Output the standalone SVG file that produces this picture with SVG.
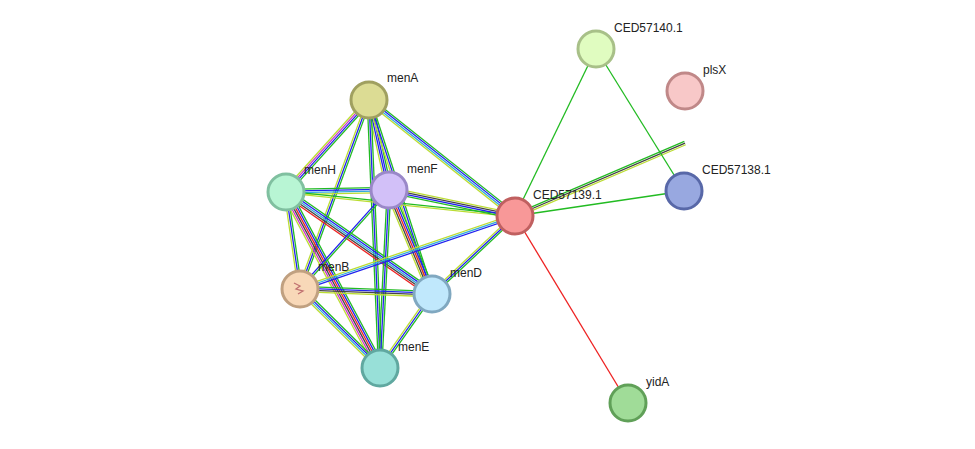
<svg xmlns="http://www.w3.org/2000/svg" width="975" height="449" viewBox="0 0 975 449">
<style>
path{stroke-width:1.3;fill:none}
.g{stroke:#22bb22}.b{stroke:#2222ee}.c{stroke:#33aadd}.y{stroke:#bbdd33}.k{stroke:#444}.r{stroke:#ee2222}.m{stroke:#cc33cc}
circle{stroke-width:3}
text{font-family:"Liberation Sans",Arial,sans-serif;font-size:12px;fill:#222}
</style>
<rect width="975" height="449" fill="#fff"/>
<g id="connectors">
<g transform="translate(369,100) rotate(132.1)"><path class="g" d="M0 -2.7H124"/><path class="b" d="M0 -0.9H124"/><path class="m" d="M0 0.9H124"/><path class="y" d="M0 2.7H124"/></g>
<g transform="translate(369,100) rotate(77.5)"><path class="g" d="M0 -2.7H92"/><path class="b" d="M0 -0.9H92"/><path class="b" d="M0 0.9H92"/><path class="y" d="M0 2.7H92"/></g>
<g transform="translate(369,100) rotate(110.1)"><path class="g" d="M0 -1.8H201"/><path class="b" d="M0 0H201"/><path class="y" d="M0 1.8H201"/></g>
<g transform="translate(369,100) rotate(72)"><path class="g" d="M0 -1.8H204"/><path class="b" d="M0 0H204"/><path class="y" d="M0 1.8H204"/></g>
<g transform="translate(369,100) rotate(87.6)"><path class="g" d="M0 -1.8H268"/><path class="b" d="M0 0H268"/><path class="g" d="M0 1.8H268"/></g>
<g transform="translate(369,100) rotate(38.5)"><path class="g" d="M0 -2.7H186"/><path class="b" d="M0 -0.9H186"/><path class="c" d="M0 0.9H186"/><path class="y" d="M0 2.7H186"/></g>
<g transform="translate(286,192) rotate(-1.1)"><path class="g" d="M0 -2.7H103"/><path class="b" d="M0 -0.9H103"/><path class="c" d="M0 0.9H103"/><path class="y" d="M0 2.7H103"/></g>
<g transform="translate(286,192) rotate(81.8)"><path class="g" d="M0 -1.8H98"/><path class="b" d="M0 0H98"/><path class="y" d="M0 1.8H98"/></g>
<g transform="translate(286,192) rotate(34.9)"><path class="g" d="M0 -3.6H178"/><path class="b" d="M0 -1.8H178"/><path class="c" d="M0 0H178"/><path class="k" d="M0 1.8H178"/><path class="r" d="M0 3.6H178"/></g>
<g transform="translate(286,192) rotate(61.9)"><path class="g" d="M0 -4.5H200"/><path class="b" d="M0 -2.7H200"/><path class="r" d="M0 -0.9H200"/><path class="k" d="M0 0.9H200"/><path class="m" d="M0 2.7H200"/><path class="y" d="M0 4.5H200"/></g>
<g transform="translate(286,192) rotate(6)"><path class="g" d="M0 -0.9H230"/><path class="y" d="M0 0.9H230"/></g>
<g transform="translate(389,190) rotate(131.9)"><path class="g" d="M0 -0.9H133"/><path class="b" d="M0 0.9H133"/></g>
<g transform="translate(389,190) rotate(67.5)"><path class="g" d="M0 -3.6H113"/><path class="b" d="M0 -1.8H113"/><path class="r" d="M0 0H113"/><path class="k" d="M0 1.8H113"/><path class="y" d="M0 3.6H113"/></g>
<g transform="translate(389,190) rotate(92.9)"><path class="g" d="M0 -1.8H178"/><path class="b" d="M0 0H178"/><path class="g" d="M0 1.8H178"/></g>
<g transform="translate(389,190) rotate(11.7)"><path class="y" d="M0 -2.7H129"/><path class="k" d="M0 -0.9H129"/><path class="b" d="M0 0.9H129"/><path class="g" d="M0 2.7H129"/></g>
<g transform="translate(300,289) rotate(2.2)"><path class="g" d="M0 -2.7H132"/><path class="b" d="M0 -0.9H132"/><path class="k" d="M0 0.9H132"/><path class="y" d="M0 2.7H132"/></g>
<g transform="translate(300,289) rotate(44.6)"><path class="g" d="M0 -2.7H112"/><path class="b" d="M0 -0.9H112"/><path class="c" d="M0 0.9H112"/><path class="y" d="M0 2.7H112"/></g>
<g transform="translate(300,289) rotate(-18.8)"><path class="y" d="M0 -1.8H227"/><path class="c" d="M0 0H227"/><path class="b" d="M0 1.8H227"/></g>
<g transform="translate(432,294) rotate(125.1)"><path class="g" d="M0 -1.8H90"/><path class="b" d="M0 0H90"/><path class="y" d="M0 1.8H90"/></g>
<g transform="translate(432,294) rotate(-43.2)"><path class="y" d="M0 -1.8H114"/><path class="b" d="M0 0H114"/><path class="g" d="M0 1.8H114"/></g>
<path class="g" d="M515 216L596 49"/>
<g transform="translate(515,216) rotate(-23.2)"><path class="g" d="M0 -1.8H185"/><path class="k" d="M0 0H185"/><path class="y" d="M0 1.8H185"/></g>
<path class="g" d="M515 216L684 191"/>
<path class="g" d="M596 49L684 191"/>
<path class="r" d="M515 216L628 403"/>
</g>
<g id="menA"><circle cx="369" cy="100" r="18" fill="#dcdc94" stroke="#a0a060"/><text x="387" y="82">menA</text></g>
<g id="menH"><circle cx="286" cy="192" r="18" fill="#b8f5d4" stroke="#80c0a0"/><text x="304" y="174">menH</text></g>
<g id="menF"><circle cx="389" cy="190" r="18" fill="#d2c0f8" stroke="#9a88c8"/><text x="407" y="173">menF</text></g>
<g id="menB"><circle cx="300" cy="289" r="18" fill="#f8d8b8" stroke="#c0a080"/><path d="M294 283l6 3-4 3 7 2-5 3" stroke="#c07070" stroke-width="1"/><text x="318" y="271">menB</text></g>
<g id="menD"><circle cx="432" cy="294" r="18" fill="#c0e8fc" stroke="#80a8c0"/><text x="450" y="277">menD</text></g>
<g id="menE"><circle cx="380" cy="368" r="18" fill="#98e0d8" stroke="#60a8a0"/><text x="398" y="351">menE</text></g>
<g id="CED57139.1"><circle cx="515" cy="216" r="18" fill="#f89898" stroke="#c06060"/><text x="533" y="199">CED57139.1</text></g>
<g id="CED57140.1"><circle cx="596" cy="49" r="18" fill="#e0fcc0" stroke="#a8c088"/><text x="614" y="32">CED57140.1</text></g>
<g id="plsX"><circle cx="685" cy="91" r="18" fill="#f8c8c8" stroke="#c08888"/><text x="703" y="74">plsX</text></g>
<g id="CED57138.1"><circle cx="684" cy="191" r="18" fill="#98a8e0" stroke="#5868a8"/><text x="702" y="174">CED57138.1</text></g>
<g id="yidA"><circle cx="628" cy="403" r="18" fill="#a0dc98" stroke="#60a058"/><text x="646" y="386">yidA</text></g>
</svg>
